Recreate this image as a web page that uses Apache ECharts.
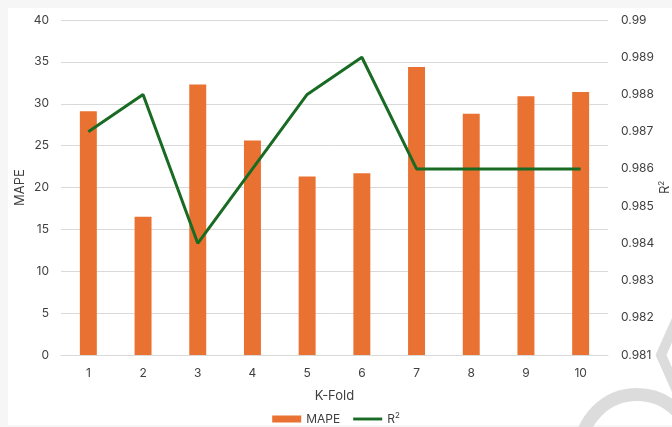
<!DOCTYPE html>
<html>
<head>
<meta charset="utf-8">
<script src="https://cdn.jsdelivr.net/npm/echarts@6/dist/echarts.min.js"></script>
<style>
  html, body { margin: 0; padding: 0; background: #f6f6f6; }
  #chart { width: 672px; height: 427px; }
</style>
</head>
<body>
<div id="chart"></div>
<script>
// K-fold cross-validation results
const folds = ['1', '2', '3', '4', '5', '6', '7', '8', '9', '10'];
const mapeValues = [29.1, 16.5, 32.3, 25.6, 21.3, 21.7, 34.4, 28.8, 30.9, 31.4];
const r2Values = [0.987, 0.988, 0.984, 0.986, 0.988, 0.989, 0.986, 0.986, 0.986, 0.986];

const textColor = '#404040';
const fontFamily = 'Inter, "Open Sans", sans-serif';

const chart = echarts.init(document.getElementById('chart'), null, { renderer: 'canvas' });

chart.setOption({
  backgroundColor: '#f6f6f6',
  textStyle: { fontFamily: fontFamily, color: textColor },
  animation: false,
  graphic: [
    {
      type: 'rect', z: -10, silent: true,
      shape: { x: 8, y: 8, width: 672, height: 417 },
      style: { fill: '#ffffff' }
    },
    // light decorative ring and chevron in the lower right corner
    {
      type: 'arc', z: 100, silent: true,
      shape: { cx: 637, cy: 451, r: 56.5, startAngle: 0, endAngle: Math.PI * 2 },
      style: { stroke: '#dcdcdc', lineWidth: 13, fill: null }
    },
    {
      type: 'polyline', z: 100, silent: true,
      shape: { points: [[690, 290], [661, 355], [690, 420]] },
      style: { stroke: '#dcdcdc', lineWidth: 10, fill: null }
    }
  ],
  grid: { left: 61, right: 64, top: 20, bottom: 72, containLabel: false, outerBoundsMode: 'none' },
  legend: {
    top: 407,
    left: 'center',
    itemGap: 13,
    itemWidth: 29,
    itemHeight: 7,
    textStyle: {
      fontSize: 12, color: textColor, fontFamily: fontFamily,
      rich: { sup: { fontSize: 8, verticalAlign: 'top', padding: [0, 0, 6, 0], color: textColor } }
    },
    formatter: function (name) { return name === 'R2' ? 'R{sup|2}' : name; },
    data: [
      { name: 'MAPE', icon: 'rect' },
      { name: 'R2', icon: 'path://M0,0H32V3.2H0Z' }
    ]
  },
  xAxis: {
    type: 'category',
    data: folds,
    name: 'K-Fold',
    nameLocation: 'middle',
    nameGap: 35,
    nameMoveOverlap: false,
    nameTextStyle: { fontSize: 13, color: textColor },
    axisLine: { lineStyle: { color: '#d9d9d9', width: 1 } },
    axisTick: { show: false },
    axisLabel: { fontSize: 12, color: textColor, margin: 12 }
  },
  yAxis: [
    {
      type: 'value',
      min: 0, max: 40, interval: 5,
      name: 'MAPE',
      nameLocation: 'middle',
      nameGap: 34,
      nameMoveOverlap: false,
      nameRotate: 90,
      nameTextStyle: { fontSize: 13, color: textColor },
      axisLine: { show: false },
      axisTick: { show: false },
      axisLabel: { fontSize: 12, color: textColor, margin: 12 },
      splitLine: { lineStyle: { color: '#d9d9d9', width: 1 } }
    },
    {
      type: 'value',
      position: 'right',
      min: 0.981, max: 0.99, interval: 0.001,
      name: 'R{sup|2}',
      nameLocation: 'middle',
      nameGap: 50,
      nameMoveOverlap: false,
      nameRotate: 90,
      nameTextStyle: {
        fontSize: 13, color: textColor,
        rich: { sup: { fontSize: 8, color: textColor, padding: [0, 0, 7, 0] } }
      },
      axisLine: { show: false },
      axisTick: { show: false },
      splitLine: { show: false },
      axisLabel: {
        fontSize: 12, color: textColor, margin: 13,
        formatter: function (v) { return String(parseFloat(v.toFixed(3))); }
      }
    }
  ],
  series: [
    {
      name: 'MAPE',
      type: 'bar',
      data: mapeValues,
      barWidth: '31%',
      itemStyle: { color: '#E97132' },
      yAxisIndex: 0
    },
    {
      name: 'R2',
      type: 'line',
      data: r2Values,
      yAxisIndex: 1,
      symbol: 'none',
      lineStyle: { color: '#196B24', width: 3 },
      itemStyle: { color: '#196B24' }
    }
  ]
});
</script>
</body>
</html>
